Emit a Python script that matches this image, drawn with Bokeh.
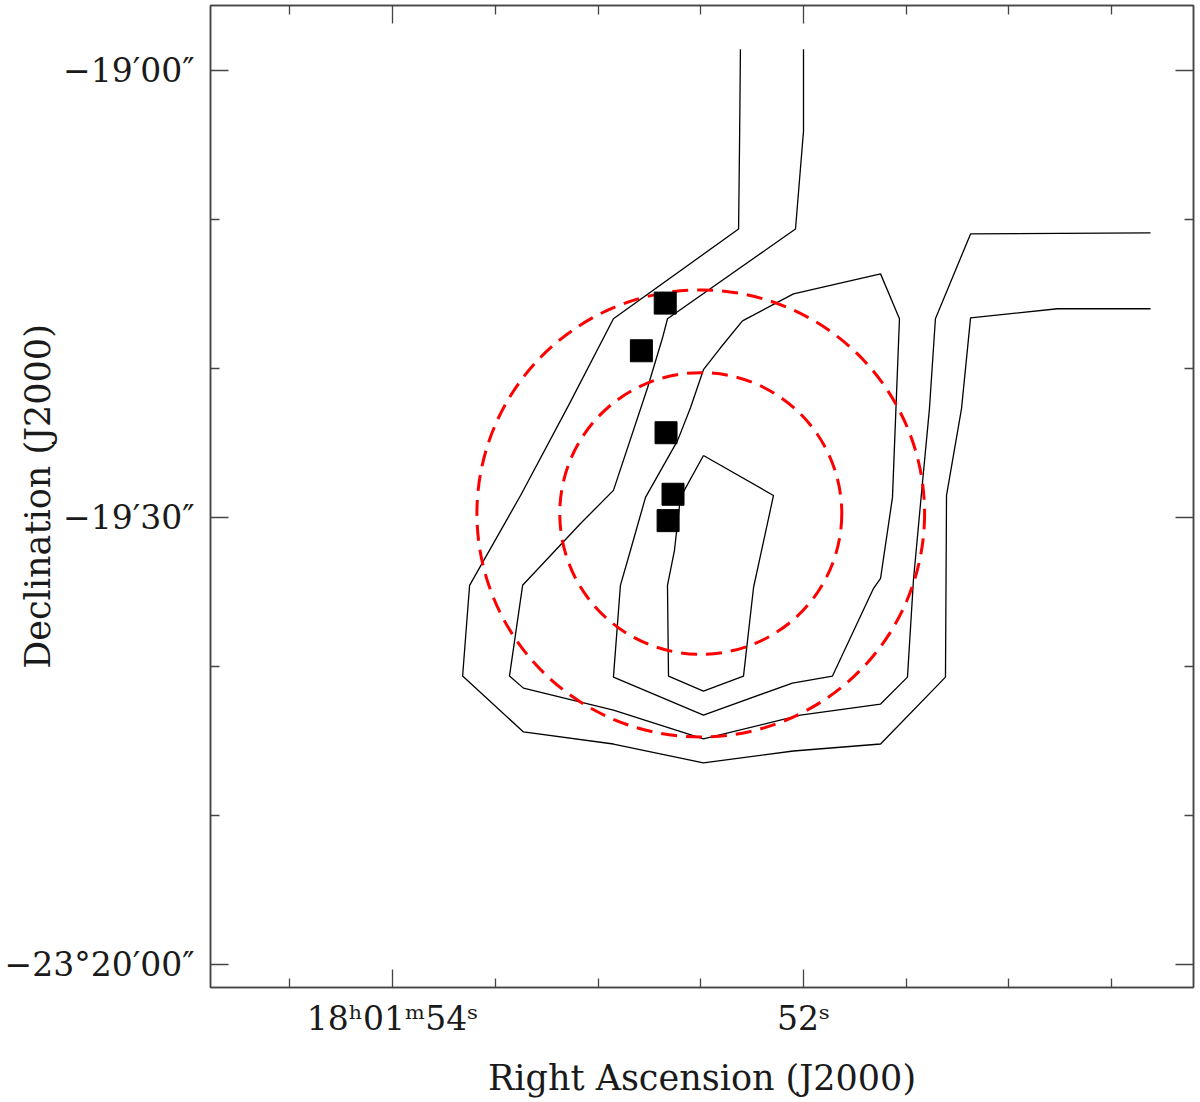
from bokeh.plotting import figure
from bokeh.models import Range1d, FixedTicker, LinearAxis, ColumnDataSource
from bokeh.embed import file_html
from bokeh.resources import INLINE

# ---- data (RA in seconds of 18h01m, Dec in arcsec offset from -23d20m00s) ----
c1_ra = [52.307, 52.311, 52.316, 52.925, 53.144, 53.377, 53.625, 53.659, 53.363, 52.925,
         52.487, 52.049, 51.625, 51.309, 51.304, 51.231, 51.187, 50.764, 50.311]
c1_dec = [61.42, 55.46, 49.36, 43.34, 37.51, 31.48, 25.45, 19.36, 15.61, 14.80,
          13.53, 14.33, 14.80, 19.29, 31.48, 37.31, 43.40, 44.01, 44.01]

c2_ra = [52.000, 52.000, 52.039, 52.662, 52.686, 52.759, 52.925, 53.085, 53.367, 53.431,
         53.363, 52.925, 52.487, 52.015, 51.625, 51.494, 51.465, 51.426, 51.387, 51.358,
         51.187, 50.311]
c2_dec = [61.42, 55.93, 49.36, 43.34, 42.06, 38.71, 31.82, 29.60, 25.45, 19.36,
          18.55, 17.08, 15.14, 16.74, 17.48, 19.29, 25.79, 31.61, 37.31, 43.34,
          49.03, 49.10]

c3_ra = [52.297, 52.404, 52.487, 52.550, 52.613, 52.769, 52.842, 52.891, 52.925, 52.487,
         52.054, 51.859, 51.659, 51.625, 51.567, 51.533, 51.625, 52.049, 52.297]
c3_dec = [43.20, 41.39, 39.92, 37.37, 35.16, 31.35, 27.80, 25.45, 19.29, 16.74,
          18.89, 19.36, 25.25, 25.92, 31.35, 43.34, 46.35, 45.01, 43.20]

c4_ra = [52.487, 52.146, 52.243, 52.292, 52.487, 52.657, 52.662, 52.628, 52.599, 52.487]
c4_dec = [34.16, 31.48, 25.32, 19.36, 18.35, 19.36, 25.45, 27.80, 31.35, 34.16]

src_ra = [52.673, 52.789, 52.669, 52.635, 52.659]
src_dec = [44.39, 41.19, 35.69, 31.56, 29.79]

circle_ra = [52.50, 52.50]
circle_dec = [30.27, 30.27]
circle_r_arcsec = [15.0, 9.45]
arcsec_per_ra_sec = 13.77  # 15 * cos(dec)

ra_ticks = [54, 52]
ra_tick_labels = ["18\u02b001\u1d5054\u02e2", "52\u02e2"]
ra_minor = [54.5, 53.5, 53.0, 52.5, 51.5, 51.0, 50.5]
dec_ticks = [0, 30, 60]
dec_tick_labels = ["\u221223\u00b020\u203200\u2033", "\u221219\u203230\u2033", "\u221219\u203200\u2033"]
dec_minor = [10, 20, 40, 50]

FONT = "DejaVu Serif"

p = figure(width=1196, height=1100,
           x_range=Range1d(54.886, 50.102), y_range=Range1d(-1.54, 64.36),
           output_backend="svg", toolbar_location=None,
           min_border_left=210, min_border_right=3, min_border_top=5, min_border_bottom=112,
           x_axis_location=None, y_axis_location=None)
p.grid.visible = False
p.background_fill_color = "white"
p.border_fill_color = "white"
p.outline_line_color = "#444444"
p.outline_line_width = 1.5

xt = FixedTicker(ticks=ra_ticks, minor_ticks=ra_minor)
yt = FixedTicker(ticks=dec_ticks, minor_ticks=dec_minor)


def style_axis(ax, show_labels):
    ax.axis_line_color = "#444444"
    ax.axis_line_width = 1.5
    ax.major_tick_in = 18
    ax.major_tick_out = 0
    ax.minor_tick_in = 9
    ax.minor_tick_out = 0
    ax.major_tick_line_color = "#444444"
    ax.minor_tick_line_color = "#444444"
    ax.major_tick_line_width = 1.3
    ax.minor_tick_line_width = 1.3
    if not show_labels:
        ax.major_label_text_font_size = "0px"
        ax.major_label_standoff = 0
    else:
        ax.major_label_text_font = FONT
        ax.major_label_text_font_size = "33px"
        ax.major_label_text_color = "#1a1a1a"
        ax.axis_label_text_font = FONT
        ax.axis_label_text_font_size = "35px"
        ax.axis_label_text_font_style = "normal"
        ax.axis_label_text_color = "#1a1a1a"


bottom = LinearAxis(ticker=xt, axis_label="Right Ascension (J2000)",
                    major_label_overrides=dict(zip(ra_ticks, ra_tick_labels)))
style_axis(bottom, True)
bottom.major_label_standoff = 11
bottom.axis_label_standoff = 17
p.add_layout(bottom, "below")

left = LinearAxis(ticker=yt, axis_label="Declination (J2000)",
                  major_label_overrides=dict(zip(dec_ticks, dec_tick_labels)))
style_axis(left, True)
left.major_label_standoff = 16
left.axis_label_standoff = -56
p.add_layout(left, "left")

top = LinearAxis(ticker=xt, major_label_overrides={t: "" for t in ra_ticks})
style_axis(top, False)
p.add_layout(top, "above")

right = LinearAxis(ticker=yt, major_label_overrides={t: "" for t in dec_ticks})
style_axis(right, False)
p.add_layout(right, "right")

contours = ColumnDataSource(dict(xs=[c1_ra, c2_ra, c3_ra, c4_ra],
                                 ys=[c1_dec, c2_dec, c3_dec, c4_dec]))
p.multi_line(xs="xs", ys="ys", source=contours, line_color="black", line_width=1.3)

circ = ColumnDataSource(dict(
    x=circle_ra, y=circle_dec,
    w=[2 * r / arcsec_per_ra_sec for r in circle_r_arcsec],
    h=[2 * r for r in circle_r_arcsec]))
p.ellipse(x="x", y="y", width="w", height="h", source=circ, fill_color=None,
          line_color="red", line_width=3, line_dash="16 9")

p.scatter(src_ra, src_dec, marker="square", size=22, fill_color="black", line_color="black")

open("out.html", "w").write(file_html(p, INLINE))
